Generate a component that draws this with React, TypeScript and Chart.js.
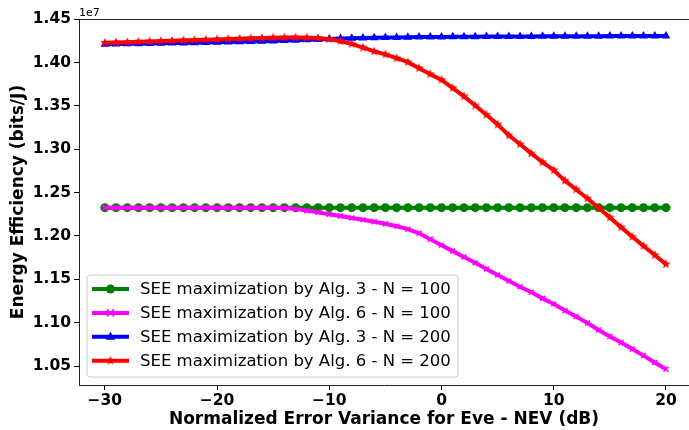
import React, { useEffect, useRef } from 'react';
import { Chart, registerables } from 'chart.js';

Chart.register(...registerables);

const nevDb = [
  -30, -29, -28, -27, -26, -25, -24, -23, -22, -21, -20, -19, -18, -17, -16, -15, -14, -13, -12, -11,
  -10, -9, -8, -7, -6, -5, -4, -3, -2, -1, 0, 1, 2, 3, 4, 5, 6, 7, 8, 9,
  10, 11, 12, 13, 14, 15, 16, 17, 18, 19, 20,
];

const seeAlg3N100 = [
  1.2326e7, 1.2326e7, 1.2326e7, 1.2326e7, 1.2326e7, 1.2326e7, 1.2326e7, 1.2326e7, 1.2326e7, 1.2326e7,
  1.2326e7, 1.2326e7, 1.2326e7, 1.2326e7, 1.2326e7, 1.2326e7, 1.2326e7, 1.2326e7, 1.2326e7, 1.2326e7,
  1.2326e7, 1.2326e7, 1.2326e7, 1.2326e7, 1.2326e7, 1.2326e7, 1.2326e7, 1.2326e7, 1.2326e7, 1.2326e7,
  1.2326e7, 1.2326e7, 1.2326e7, 1.2326e7, 1.2326e7, 1.2326e7, 1.2326e7, 1.2326e7, 1.2326e7, 1.2326e7,
  1.2326e7, 1.2326e7, 1.2326e7, 1.2326e7, 1.2326e7, 1.2326e7, 1.2326e7, 1.2326e7, 1.2326e7, 1.2326e7,
  1.2326e7,
];

const seeAlg6N100 = [
  1.2326e7, 1.2326e7, 1.2326e7, 1.2326e7, 1.2326e7, 1.2326e7, 1.2326e7, 1.2326e7, 1.2326e7, 1.2326e7,
  1.2326e7, 1.2326e7, 1.2326e7, 1.2326e7, 1.2326e7, 1.2326e7, 1.2321e7, 1.2310e7, 1.2292e7, 1.2272e7,
  1.2251e7, 1.2230e7, 1.2208e7, 1.2186e7, 1.2164e7, 1.2140e7, 1.2112e7, 1.2078e7, 1.2030e7, 1.1962e7,
  1.1892e7, 1.1825e7, 1.1758e7, 1.1690e7, 1.1620e7, 1.1550e7, 1.1480e7, 1.1415e7, 1.1350e7, 1.1280e7,
  1.1215e7, 1.1140e7, 1.1070e7, 1.0995e7, 1.0915e7, 1.0840e7, 1.0770e7, 1.0695e7, 1.0620e7, 1.0540e7,
  1.0462e7,
];

const seeAlg3N200 = [
  1.4212e7, 1.4214e7, 1.4216e7, 1.4218e7, 1.4220e7, 1.4222e7, 1.4224e7, 1.4226e7, 1.4228e7, 1.4230e7,
  1.4233e7, 1.4236e7, 1.4239e7, 1.4242e7, 1.4245e7, 1.4249e7, 1.4253e7, 1.4257e7, 1.4262e7, 1.4267e7,
  1.4272e7, 1.4276e7, 1.4280e7, 1.4283e7, 1.4286e7, 1.4288e7, 1.4290e7, 1.4292e7, 1.4293e7, 1.4294e7,
  1.4295e7, 1.4296e7, 1.4297e7, 1.4298e7, 1.4299e7, 1.4300e7, 1.4300e7, 1.4301e7, 1.4301e7, 1.4302e7,
  1.4302e7, 1.4303e7, 1.4303e7, 1.4304e7, 1.4304e7, 1.4305e7, 1.4305e7, 1.4306e7, 1.4306e7, 1.4307e7,
  1.4307e7,
];

const seeAlg6N200 = [
  1.4227e7, 1.4231e7, 1.4235e7, 1.4239e7, 1.4243e7, 1.4247e7, 1.4251e7, 1.4255e7, 1.4259e7, 1.4263e7,
  1.4267e7, 1.4271e7, 1.4275e7, 1.4279e7, 1.4283e7, 1.4286e7, 1.4288e7, 1.4288e7, 1.4287e7, 1.4283e7,
  1.4270e7, 1.4246e7, 1.4215e7, 1.4172e7, 1.4128e7, 1.4094e7, 1.4050e7, 1.4004e7, 1.3935e7, 1.3865e7,
  1.3800e7, 1.3706e7, 1.3610e7, 1.3504e7, 1.3398e7, 1.3285e7, 1.3160e7, 1.3058e7, 1.2952e7, 1.2850e7,
  1.2758e7, 1.2638e7, 1.2536e7, 1.2432e7, 1.2324e7, 1.2213e7, 1.2100e7, 1.1990e7, 1.1884e7, 1.1780e7,
  1.1674e7,
];

const seriesLabels = [
  'SEE maximization by Alg. 3 - N = 100',
  'SEE maximization by Alg. 6 - N = 100',
  'SEE maximization by Alg. 3 - N = 200',
  'SEE maximization by Alg. 6 - N = 200',
];

const xTicks = [-30, -20, -10, 0, 10, 20];
const yTicks = [1.05e7, 1.1e7, 1.15e7, 1.2e7, 1.25e7, 1.3e7, 1.35e7, 1.4e7, 1.45e7];

const xTitle = 'Normalized Error Variance for Eve - NEV (dB)';
const yTitle = 'Energy Efficiency (bits/J)';
const offsetText = '1e7';

const FONT = '"DejaVu Sans", sans-serif';

function makeStar(color: string, r: number): HTMLCanvasElement {
  const size = Math.ceil(r * 2 + 2);
  const c = document.createElement('canvas');
  c.width = size;
  c.height = size;
  const g = c.getContext('2d')!;
  const cx = size / 2;
  const cy = size / 2;
  g.beginPath();
  for (let i = 0; i < 10; i++) {
    const rad = i % 2 === 0 ? r : r * 0.42;
    const a = -Math.PI / 2 + (i * Math.PI) / 5;
    const px = cx + rad * Math.cos(a);
    const py = cy + rad * Math.sin(a);
    if (i === 0) g.moveTo(px, py);
    else g.lineTo(px, py);
  }
  g.closePath();
  g.fillStyle = color;
  g.fill();
  return c;
}

export default function App() {
  const ref = useRef<HTMLCanvasElement | null>(null);

  useEffect(() => {
    if (!ref.current) return;
    const star = makeStar('#ff0000', 5);
    const colors = ['#008000', '#ff00ff', '#0000ff', '#ff0000'];
    const markers = ['circle', 'x', 'triangle', 'star'];

    const drawMarker = (ctx: CanvasRenderingContext2D, kind: string, x: number, y: number, color: string) => {
      ctx.save();
      ctx.fillStyle = color;
      ctx.strokeStyle = color;
      if (kind === 'circle') {
        ctx.beginPath();
        ctx.arc(x, y, 4.5, 0, Math.PI * 2);
        ctx.fill();
      } else if (kind === 'x') {
        ctx.lineWidth = 1.5;
        ctx.beginPath();
        ctx.moveTo(x - 3.5, y - 3.5);
        ctx.lineTo(x + 3.5, y + 3.5);
        ctx.moveTo(x + 3.5, y - 3.5);
        ctx.lineTo(x - 3.5, y + 3.5);
        ctx.stroke();
      } else if (kind === 'triangle') {
        const r = 5;
        ctx.beginPath();
        ctx.moveTo(x, y - r);
        ctx.lineTo(x + r * 0.95, y + r * 0.6);
        ctx.lineTo(x - r * 0.95, y + r * 0.6);
        ctx.closePath();
        ctx.fill();
      } else {
        ctx.drawImage(star, x - star.width / 2, y - star.height / 2);
      }
      ctx.restore();
    };

    const decor = {
      id: 'decor',
      afterDraw(chart: any) {
        const ctx: CanvasRenderingContext2D = chart.ctx;
        const area = chart.chartArea;
        ctx.save();
        // top spine
        ctx.strokeStyle = '#222';
        ctx.lineWidth = 1;
        ctx.beginPath();
        ctx.moveTo(area.left, area.top + 0.5);
        ctx.lineTo(area.right, area.top + 0.5);
        ctx.stroke();
        // offset text
        ctx.fillStyle = '#000';
        ctx.font = `11px ${FONT}`;
        ctx.textAlign = 'left';
        ctx.textBaseline = 'alphabetic';
        ctx.fillText(offsetText, area.left, area.top - 3);
        // legend
        const bx = area.left + 8;
        const by = area.top + 256;
        const bw = 371;
        const bh = 102;
        const rr = 3;
        ctx.beginPath();
        ctx.moveTo(bx + rr, by);
        ctx.lineTo(bx + bw - rr, by);
        ctx.quadraticCurveTo(bx + bw, by, bx + bw, by + rr);
        ctx.lineTo(bx + bw, by + bh - rr);
        ctx.quadraticCurveTo(bx + bw, by + bh, bx + bw - rr, by + bh);
        ctx.lineTo(bx + rr, by + bh);
        ctx.quadraticCurveTo(bx, by + bh, bx, by + bh - rr);
        ctx.lineTo(bx, by + rr);
        ctx.quadraticCurveTo(bx, by, bx + rr, by);
        ctx.closePath();
        ctx.fillStyle = 'rgba(255,255,255,0.8)';
        ctx.fill();
        ctx.strokeStyle = '#cccccc';
        ctx.lineWidth = 1;
        ctx.stroke();
        ctx.font = `16.5px ${FONT}`;
        ctx.textBaseline = 'middle';
        for (let i = 0; i < seriesLabels.length; i++) {
          const ry = by + 14 + i * 23.9;
          ctx.strokeStyle = colors[i];
          ctx.lineWidth = 4;
          ctx.beginPath();
          ctx.moveTo(bx + 5, ry);
          ctx.lineTo(bx + 42, ry);
          ctx.stroke();
          drawMarker(ctx, markers[i], bx + 23.5, ry, colors[i]);
          ctx.fillStyle = '#000';
          ctx.fillText(seriesLabels[i], bx + 53, ry + 1);
        }
        ctx.restore();
      },
    };

    const mk = (data: number[]) => nevDb.map((x, i) => ({ x, y: data[i] }));

    const chart = new Chart(ref.current, {
      type: 'line',
      data: {
        datasets: [
          {
            label: seriesLabels[0],
            data: mk(seeAlg3N100),
            borderColor: colors[0],
            backgroundColor: colors[0],
            borderWidth: 4,
            pointStyle: 'circle',
            pointRadius: 4.5,
            pointBorderWidth: 0,
            order: 4,
          },
          {
            label: seriesLabels[1],
            data: mk(seeAlg6N100),
            borderColor: colors[1],
            backgroundColor: colors[1],
            borderWidth: 4,
            pointStyle: 'crossRot',
            pointRadius: 3.5,
            pointBorderWidth: 1.5,
            order: 3,
          },
          {
            label: seriesLabels[2],
            data: mk(seeAlg3N200),
            borderColor: colors[2],
            backgroundColor: colors[2],
            borderWidth: 4,
            pointStyle: 'triangle',
            pointRadius: 5,
            pointBorderWidth: 0,
            order: 2,
          },
          {
            label: seriesLabels[3],
            data: mk(seeAlg6N200),
            borderColor: colors[3],
            backgroundColor: colors[3],
            borderWidth: 4,
            pointStyle: star as any,
            pointRadius: 5,
            order: 1,
          },
        ],
      },
      options: {
        responsive: false,
        animation: false,
        events: [],
        layout: { autoPadding: false, padding: { top: 19, left: 0, right: 0, bottom: 0 } },
        plugins: {
          legend: { display: false },
          tooltip: { enabled: false },
        },
        elements: { line: { tension: 0 } },
        scales: {
          x: {
            type: 'linear',
            min: -32.3,
            max: 22.05,
            afterBuildTicks: (scale: any) => {
              scale.ticks = xTicks.map((value) => ({ value }));
            },
            afterFit: (scale: any) => {
              scale.height = 45;
              scale.paddingLeft = 0;
              scale.paddingRight = 0;
            },
            grid: { drawOnChartArea: false, drawTicks: true, tickLength: 5, color: '#000', tickWidth: 1 },
            border: { display: true, color: '#222', width: 1 },
            ticks: {
              color: '#000',
              padding: 2,
              font: { family: FONT, size: 15.5, weight: 'bold' },
              callback: (v: any) => String(v).replace('-', '\u2212'),
              maxRotation: 0,
            },
            title: {
              display: true,
              text: xTitle,
              color: '#000',
              font: { family: FONT, size: 17, weight: 'bold' },
              padding: { top: 0, bottom: 0 },
            },
          },
          y: {
            type: 'linear',
            min: 1.0281e7,
            max: 1.4502e7,
            afterBuildTicks: (scale: any) => {
              scale.ticks = yTicks.map((value) => ({ value }));
            },
            afterFit: (scale: any) => {
              scale.width = 79;
              scale.paddingTop = 0;
              scale.paddingBottom = 0;
            },
            grid: { drawOnChartArea: false, drawTicks: true, tickLength: 5, color: '#000', tickWidth: 1 },
            border: { display: true, color: '#222', width: 1 },
            ticks: {
              color: '#000',
              padding: 3,
              font: { family: FONT, size: 15.5, weight: 'bold' },
              callback: (v: any) => (Number(v) / 1e7).toFixed(2),
            },
            title: {
              display: true,
              text: yTitle,
              color: '#000',
              font: { family: FONT, size: 17, weight: 'bold' },
              padding: { top: 8, bottom: 0 },
            },
          },
        },
      },
      plugins: [decor],
    });

    return () => chart.destroy();
  }, []);

  return (
    <div style={{ position: 'absolute', left: 0, top: 0, width: 689, height: 430, background: '#fff' }}>
      <canvas ref={ref} width={689} height={430} />
    </div>
  );
}
